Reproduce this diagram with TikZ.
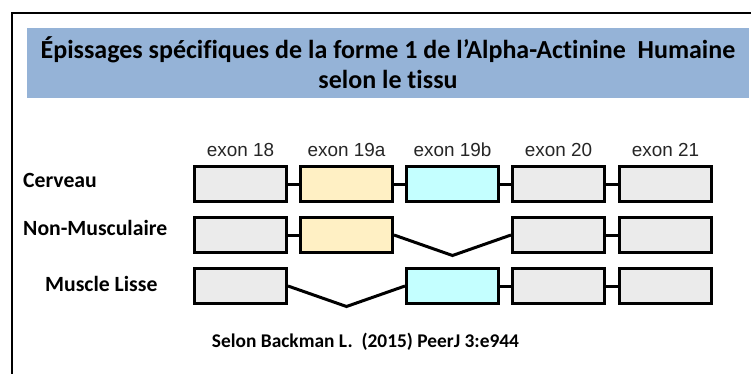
\documentclass[tikz,border=0pt]{standalone}
\usepackage{fontspec}
\setmainfont[Ligatures=NoCommon]{Carlito}
\newfontfamily\arialfont{Liberation Sans}
\usetikzlibrary{positioning}
\usetikzlibrary{calc}

\definecolor{bandblue}{RGB}{149,179,215}
\definecolor{exgray}{RGB}{235,235,235}
\definecolor{exyellow}{RGB}{255,240,196}
\definecolor{excyan}{RGB}{196,255,255}

\begin{document}
\begin{tikzpicture}[x=1pt, y=-1pt, exnode/.style={rectangle,draw=black,fill=exgray,line width=3pt,minimum width=92pt,minimum height=35pt,inner sep=0pt}, exlabel/.style={font=\arialfont\fontsize{18.9}{20}\selectfont,text=black!85,inner sep=0pt}, rowlabel/.style={font=\bfseries\fontsize{21.7}{24}\selectfont,inner sep=0pt,anchor=base west}, link/.style={line width=3pt,line join=miter}, node distance = 13pt and 11pt]
	\useasboundingbox (0,0) rectangle (751,374);
	\clip (0,0) rectangle (751,374);
	\fill[white] (0,0) rectangle (751,374);
	\draw[line width=2pt] (11.5,13.5) rectangle (790,400);
	\node[fill=bandblue, minimum width=722pt, minimum height=70pt, inner sep=0pt, align=center, font=\bfseries\fontsize{26}{30}\selectfont] (title) at (388,63) {Épissages spécifiques de la forme 1 de l’Alpha-Actinine\ \ Humaine\\selon le tissu};
	% cerveau
	\node[exnode] (c18) at (240.5,184) {};
	\node[exnode, fill=exyellow] (c19a) [right = of c18] {};
	\node[exnode, fill=excyan] (c19b) [right = of c19a] {};
	\node[exnode] (c20) [right = of c19b] {};
	\node[exnode] (c21) [right = 12pt of c20] {};
	% non-musculaire
	\node[exnode] (n18) [below = of c18] {};
	\node[exnode, fill=exyellow] (n19a) [right = of n18] {};
	\node[exnode] (n20) [below = of c20] {};
	\node[exnode] (n21) [below = of c21] {};
	% muscle lisse
	\node[exnode] (m18) [below = of n18] {};
	\node[exnode, fill=excyan] (m19b) at (c19b |- m18) {};
	\node[exnode] (m20) [below = of n20] {};
	\node[exnode] (m21) [below = of n21] {};
	\node[exlabel] (l18) [above = 8pt of c18] {exon 18};
	\node[exlabel] (l19a) [above = 8pt of c19a] {exon 19a};
	\node[exlabel] (l19b) [above = 8pt of c19b] {exon 19b};
	\node[exlabel] (l20) [above = 8pt of c20] {exon 20};
	\node[exlabel] (l21) [above = 8pt of c21] {exon 21};
	\node[rowlabel] (cerveau) at (23,187) {Cerveau};
	\node[rowlabel] (nonmusc) at (23,235) {Non-Musculaire};
	\node[rowlabel] (lisse) at (45,291) {Muscle Lisse};
	\node[font=\bfseries\fontsize{19.4}{22}\selectfont, inner sep=0pt, anchor=base] (source) at (365.5,347) {Selon Backman L.\ \ (2015) PeerJ 3:e944};
	\coordinate (nskip) at ($(n19a.east)!.5!(n20.west) + (0,20.5)$);
	\coordinate (mskip) at ($(m18.east)!.5!(m19b.west) + (0,20.5)$);
	\draw[link] (c18) -- (c19a);
	\draw[link] (c19a) -- (c19b);
	\draw[link] (c19b) -- (c20);
	\draw[link] (c20) -- (c21);
	\draw[link] (n18) -- (n19a);
	\draw[link] (n19a.east) -- (nskip) -- (n20.west);
	\draw[link] (n20) -- (n21);
	\draw[link] (m18.east) -- (mskip) -- (m19b.west);
	\draw[link] (m19b) -- (m20);
	\draw[link] (m20) -- (m21);
\end{tikzpicture}
\end{document}
